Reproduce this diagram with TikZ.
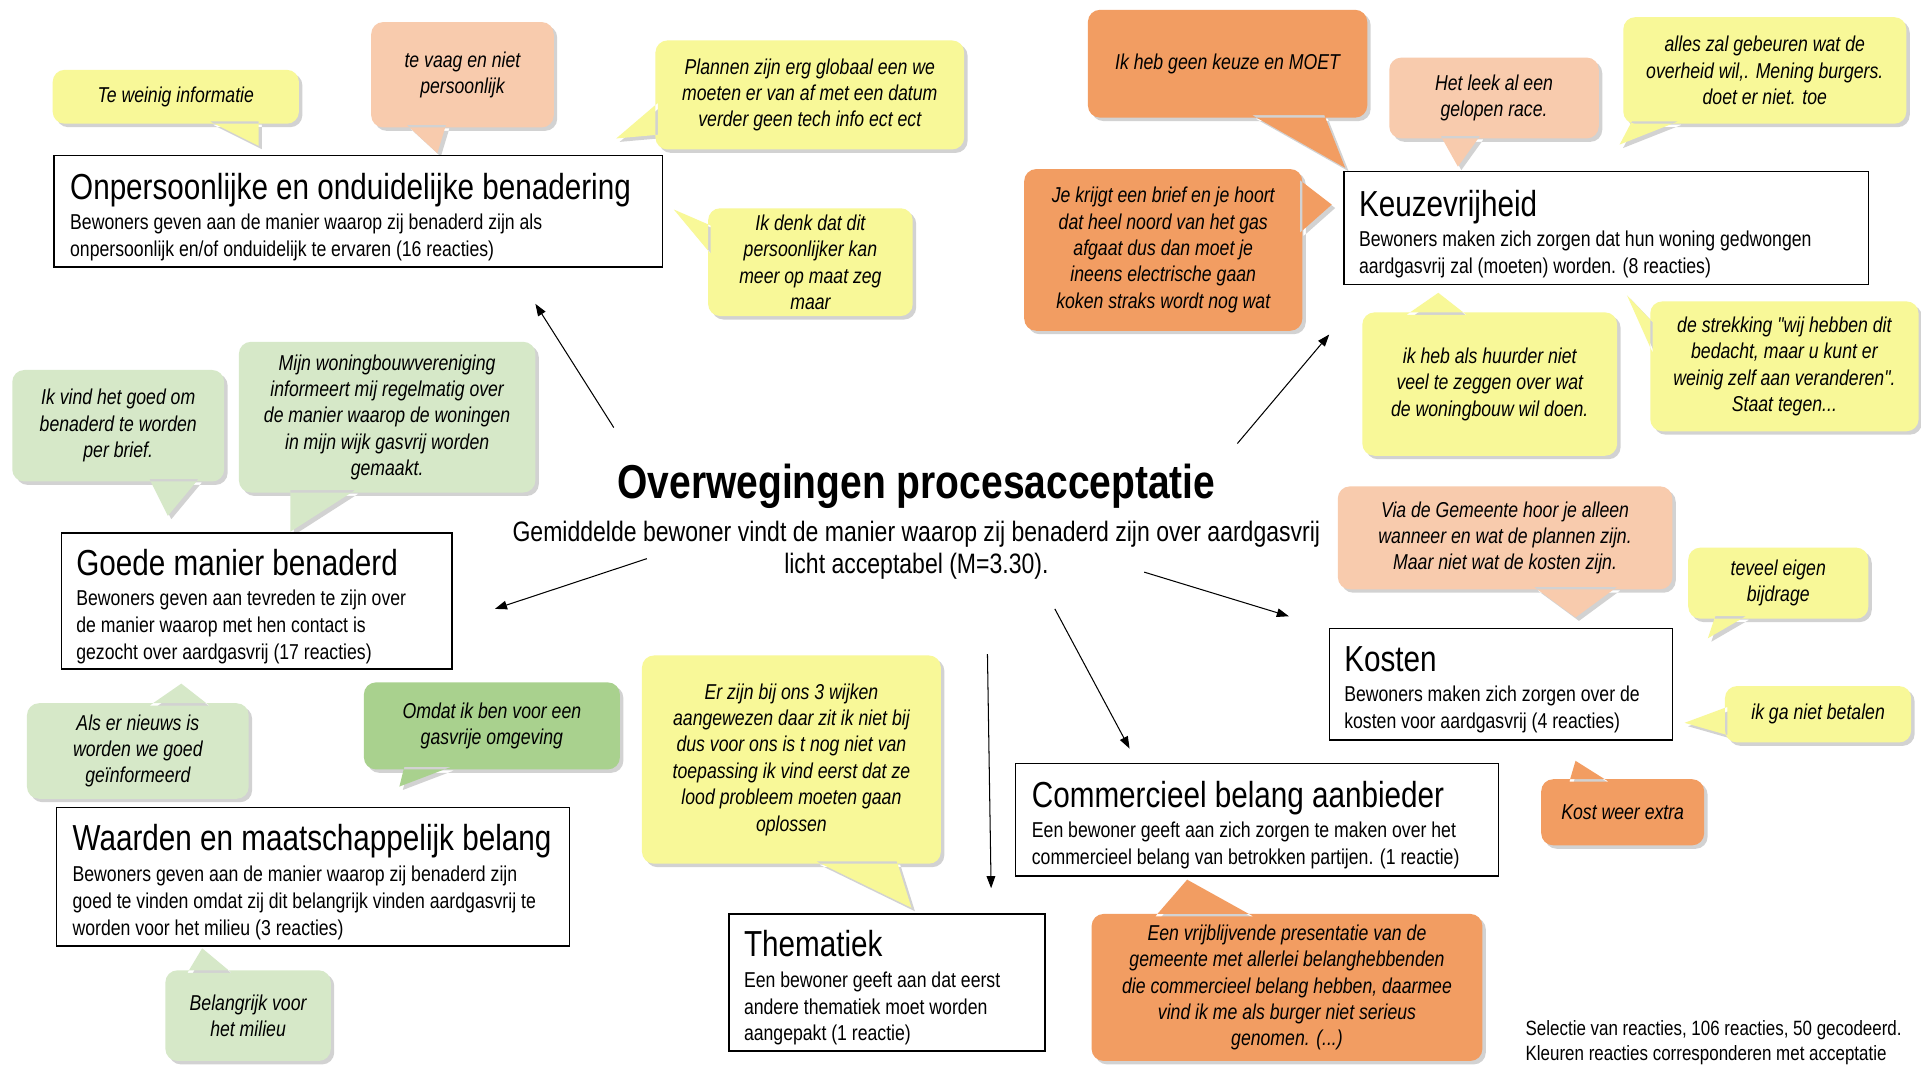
\documentclass[tikz,border=0pt]{standalone}
\usepackage{fontspec}
\setmainfont{Liberation Sans}[FakeStretch=0.82,Ligatures=TeXOff]
\usetikzlibrary{arrows.meta,shadows}

\definecolor{bubyellow}{HTML}{F8F898}
\definecolor{bubpeach}{HTML}{F8CBAD}
\definecolor{buborange}{HTML}{F29D62}
\definecolor{bubgreen}{HTML}{D6E8C8}
\definecolor{bubdkgreen}{HTML}{A9D18E}

\tikzset{
  bubble/.style={fill=#1, drop shadow={shadow xshift=2pt,shadow yshift=-2pt,opacity=.35}},
  bubtxt/.style={align=center, inner sep=0pt, font=\fontsize{12.5}{15.3}\selectfont\itshape},
  catbox/.style={draw=black, fill=white, line width=0.8pt},
  cattxt/.style={anchor=west, align=left, inner sep=0pt, font=\fontsize{12.5}{15.6}\selectfont},
  arr/.style={-{Triangle[length=7pt,width=5pt]}, line width=0.6pt},
}
\newcommand{\cathead}[1]{{\fontsize{21}{15.6}\selectfont #1}}

\begin{document}
\begin{tikzpicture}[x=0.025cm,y=-0.025cm]
  \path[use as bounding box, fill=white] (0,0) rectangle (1568,870);

  % speech bubbles
  \path[bubble=bubyellow] [rounded corners=7pt] (43,57) rectangle (244,101) [sharp corners] (211,99) -- (211,119) -- (171,99) -- cycle;
  \path[bubble=bubpeach] [rounded corners=7pt] (303,18) rectangle (452,104) [sharp corners] (364,102) -- (357,125) -- (332,102) -- cycle;
  \path[bubble=bubyellow] [rounded corners=7pt] (535,33) rectangle (787,122) [sharp corners] (537,110) -- (503,113) -- (537,84) -- cycle;
  \path[bubble=bubyellow] [rounded corners=7pt] (578,170) rectangle (745,258) [sharp corners] (580,207) -- (550,171) -- (580,184) -- cycle;
  \path[bubble=buborange] [rounded corners=7pt] (888,8) rectangle (1116,96) [sharp corners] (1081,94) -- (1098,137) -- (1022,94) -- cycle;
  \path[bubble=buborange] [rounded corners=7pt] (836,138) rectangle (1063,270) [sharp corners] (1061,147) -- (1087,167) -- (1061,190) -- cycle;
  \path[bubble=bubpeach] [rounded corners=7pt] (1134,47) rectangle (1305,113) [sharp corners] (1208,111) -- (1190,136) -- (1176,111) -- cycle;
  \path[bubble=bubyellow] [rounded corners=7pt] (1325,14) rectangle (1556,101) [sharp corners] (1370,99) -- (1322,118) -- (1332,99) -- cycle;
  \path[bubble=bubyellow] [rounded corners=7pt] (1112,255) rectangle (1320,372) [sharp corners] (1148,257) -- (1174,239) -- (1197,257) -- cycle;
  \path[bubble=bubyellow] [rounded corners=7pt] (1347,246) rectangle (1566,352) [sharp corners] (1349,288) -- (1328,241) -- (1349,263) -- cycle;
  \path[bubble=bubgreen] [rounded corners=7pt] (10,302) rectangle (183,393) [sharp corners] (162,391) -- (137,421) -- (122,391) -- cycle;
  \path[bubble=bubgreen] [rounded corners=7pt] (195,279) rectangle (437,402) [sharp corners] (290,400) -- (237,434) -- (237,400) -- cycle;
  \path[bubble=bubgreen] [rounded corners=7pt] (22,574) rectangle (203,652) [sharp corners] (122,576) -- (148,558) -- (171,576) -- cycle;
  \path[bubble=bubdkgreen] [rounded corners=7pt] (297,557) rectangle (506,628) [sharp corners] (368,626) -- (326,642) -- (330,626) -- cycle;
  \path[bubble=bubgreen] [rounded corners=7pt] (135,792) rectangle (270,866) [sharp corners] (153,794) -- (165,774) -- (189,794) -- cycle;
  \path[bubble=bubyellow] [rounded corners=7pt] (524,535) rectangle (768,705) [sharp corners] (732,703) -- (744,741) -- (666,703) -- cycle;
  \path[bubble=bubpeach] [rounded corners=7pt] (1092,397) rectangle (1365,481) [sharp corners] (1320,479) -- (1286,504) -- (1252,479) -- cycle;
  \path[bubble=bubyellow] [rounded corners=7pt] (1378,447) rectangle (1525,505) [sharp corners] (1425,503) -- (1394,521) -- (1400,503) -- cycle;
  \path[bubble=bubyellow] [rounded corners=7pt] (1408,560) rectangle (1560,606) [sharp corners] (1410,600) -- (1375,590) -- (1410,577) -- cycle;
  \path[bubble=buborange] [rounded corners=7pt] (1258,636) rectangle (1391,690) [sharp corners] (1281,638) -- (1286,621) -- (1313,638) -- cycle;
  \path[bubble=buborange] [rounded corners=7pt] (891,746) rectangle (1210,866) [sharp corners] (943,748) -- (969,718) -- (1023,748) -- cycle;

  \node[bubtxt] at (143.5,79) (weinig) {Te weinig informatie};
  \node[bubtxt] at (377.5,61) (vaag) {te vaag en niet\\persoonlijk};
  \node[bubtxt] at (661,77.5) (plannen) {Plannen zijn erg globaal een we\\moeten er van af met een datum\\verder geen tech info ect ect};
  \node[bubtxt] at (661.5,214) (denk) {Ik denk dat dit\\persoonlijker kan\\meer op maat zeg\\maar};
  \node[bubtxt] at (1002,52) (keuze) {Ik heb geen keuze en MOET};
  \node[bubtxt] at (949.5,204) (brief) {Je krijgt een brief en je hoort\\dat heel noord van het gas\\afgaat dus dan moet je\\ineens electrische gaan\\koken straks wordt nog wat};
  \node[bubtxt] at (1219.5,80) (leek) {Het leek al een\\gelopen race.};
  \node[bubtxt] at (1440.5,57.5) (alles) {alles zal gebeuren wat de\\overheid wil,. Mening burgers.\\doet er niet. toe};
  \node[bubtxt] at (1216,313.5) (huurder) {ik heb als huurder niet\\veel te zeggen over wat\\de woningbouw wil doen.};
  \node[bubtxt] at (1456.5,299) (strekking) {de strekking "wij hebben dit\\bedacht, maar u kunt er\\weinig zelf aan veranderen".\\Staat tegen...};
  \node[bubtxt] at (96.5,347.5) (brieffijn) {Ik vind het goed om\\benaderd te worden\\per brief.};
  \node[bubtxt] at (316,340.5) (woningbouw) {Mijn woningbouwvereniging\\informeert mij regelmatig over\\de manier waarop de woningen\\in mijn wijk gasvrij worden\\gemaakt.};
  \node[bubtxt] at (112.5,613) (nieuws) {Als er nieuws is\\worden we goed\\geïnformeerd};
  \node[bubtxt] at (401.5,592.5) (omdat) {Omdat ik ben voor een\\gasvrije omgeving};
  \node[bubtxt] at (202.5,829) (milieu) {Belangrijk voor\\het milieu};
  \node[bubtxt] at (646,620) (wijken) {Er zijn bij ons 3 wijken\\aangewezen daar zit ik niet bij\\dus voor ons is t nog niet van\\toepassing ik vind eerst dat ze\\lood probleem moeten gaan\\oplossen};
  \node[bubtxt] at (1228.5,439) (gemeente) {Via de Gemeente hoor je alleen\\wanneer en wat de plannen zijn.\\Maar niet wat de kosten zijn.};
  \node[bubtxt] at (1451.5,476) (teveel) {teveel eigen\\bijdrage};
  \node[bubtxt] at (1484,583) (betalen) {ik ga niet betalen};
  \node[bubtxt] at (1324.5,663) (extra) {Kost weer extra};
  \node[bubtxt] at (1050.5,806) (presentatie) {Een vrijblijvende presentatie van de\\gemeente met allerlei belanghebbenden\\die commercieel belang hebben, daarmee\\vind ik me als burger niet serieus\\genomen. (...)};

  % category boxes
  \draw[catbox] (44,127) rectangle (541,218);
  \draw[catbox] (1097,140) rectangle (1525,232);
  \draw[catbox] (50,435) rectangle (369,546);
  \draw[catbox] (1085,513) rectangle (1365,604);
  \draw[catbox] (46,659) rectangle (465,772);
  \draw[catbox] (829,623) rectangle (1223,715);
  \draw[catbox] (595,746) rectangle (853,858);

  \node[cattxt] at (57,177) (onpers) {\cathead{Onpersoonlijke en onduidelijke benadering}\\[2pt]Bewoners geven aan de manier waarop zij benaderd zijn als\\onpersoonlijk en/of onduidelijk te ervaren (16 reacties)};
  \node[cattxt] at (1109,191) (keuzevrij) {\cathead{Keuzevrijheid}\\[2pt]Bewoners maken zich zorgen dat hun woning gedwongen\\aardgasvrij zal (moeten) worden. (8 reacties)};
  \node[cattxt] at (62,495) (goedben) {\cathead{Goede manier benaderd}\\[2pt]Bewoners geven aan tevreden te zijn over\\de manier waarop met hen contact is\\gezocht over aardgasvrij (17 reacties)};
  \node[cattxt] at (1097,563) (kosten) {\cathead{Kosten}\\[2pt]Bewoners maken zich zorgen over de\\kosten voor aardgasvrij (4 reacties)};
  \node[cattxt] at (59,720) (waarden) {\cathead{Waarden en maatschappelijk belang}\\[2pt]Bewoners geven aan de manier waarop zij benaderd zijn\\goed te vinden omdat zij dit belangrijk vinden aardgasvrij te\\worden voor het milieu (3 reacties)};
  \node[cattxt] at (842,673.5) (commercie) {\cathead{Commercieel belang aanbieder}\\[2pt]Een bewoner geeft aan zich zorgen te maken over het\\commercieel belang van betrokken partijen. (1 reactie)};
  \node[cattxt] at (607,806.5) (thema) {\cathead{Thematiek}\\[2pt]Een bewoner geeft aan dat eerst\\andere thematiek moet worden\\aangepakt (1 reactie)};

  % centre
  \node[font=\bfseries\fontsize{27.6}{30}\selectfont] at (748,397) (titel) {Overwegingen procesacceptatie};
  \node[align=center, font=\fontsize{16.3}{18.5}\selectfont] at (748,449) (gemiddeld) {Gemiddelde bewoner vindt de manier waarop zij benaderd zijn over aardgasvrij\\licht acceptabel (M=3.30).};
  \node[anchor=west, align=left, inner sep=0pt, font=\fontsize{12}{15}\selectfont] at (1245,851) (selectie) {Selectie van reacties, 106 reacties, 50 gecodeerd.\\Kleuren reacties corresponderen met acceptatie};

  \coordinate (a1s) at (501,349); \coordinate (a1e) at (437,248);
  \coordinate (a2s) at (1010,362); \coordinate (a2e) at (1085,273);
  \coordinate (a3s) at (528,456); \coordinate (a3e) at (404,497);
  \coordinate (a4s) at (934,467); \coordinate (a4e) at (1052,503);
  \coordinate (a5s) at (861,497); \coordinate (a5e) at (922,611);
  \coordinate (a6s) at (806,534); \coordinate (a6e) at (809,725);
  \draw[arr] (a1s) to (a1e);
  \draw[arr] (a2s) to (a2e);
  \draw[arr] (a3s) to (a3e);
  \draw[arr] (a4s) to (a4e);
  \draw[arr] (a5s) to (a5e);
  \draw[arr] (a6s) to (a6e);
\end{tikzpicture}
\end{document}
